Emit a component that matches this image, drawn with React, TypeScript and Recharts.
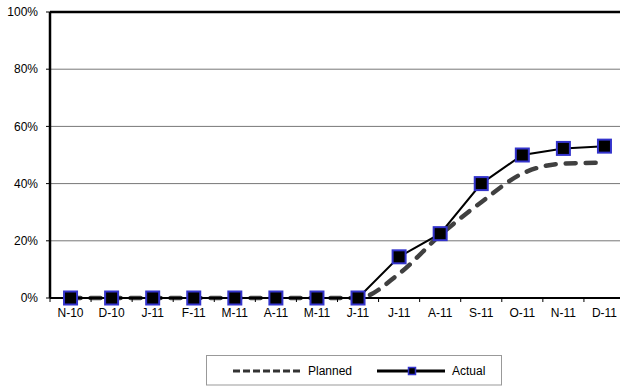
import React from 'react';
import { LineChart, Line, XAxis, YAxis, CartesianGrid, ReferenceLine } from 'recharts';

const months = ['N-10', 'D-10', 'J-11', 'F-11', 'M-11', 'A-11', 'M-11', 'J-11', 'J-11', 'A-11', 'S-11', 'O-11', 'N-11', 'D-11'];
const planned = [0, 0, 0, 0, 0, 0, 0, 0, 8.5, 22, 33.5, 43.5, 47, 47.3];
const actual = [0, 0, 0, 0, 0, 0, 0, 0, 14.4, 22.5, 40, 50, 52.3, 53.1];
const yTicks = [0, 20, 40, 60, 80, 100];
const seriesNames = ['Planned', 'Actual'];

const data = months.map((m, i) => ({ idx: i, month: m, planned: planned[i], actual: actual[i] }));

const W = 640;
const H = 386;
const MARGIN = { top: 12, right: 15, bottom: 58, left: 0 };
const Y_AXIS_W = 50;
const X_AXIS_H = 30;
const PLOT_W = W - MARGIN.left - MARGIN.right - Y_AXIS_W;
const BAND = PLOT_W / months.length;
const AXIS_Y = H - MARGIN.bottom - X_AXIS_H;
const FONT = 'Liberation Sans, Arial, sans-serif';
const BLUE = '#3333cc';

const XTick = (props: any) => {
  const { x, payload } = props;
  const label = months[payload.value];
  return (
    <g>
      <line x1={x - BAND / 2} x2={x - BAND / 2} y1={AXIS_Y} y2={AXIS_Y + 4} stroke="#000" strokeWidth={1} />
      <text x={x} y={AXIS_Y + 19} textAnchor="middle" fontSize={12} fontFamily={FONT} fill="#000">
        {label}
      </text>
    </g>
  );
};

const SquareDot = (props: any) => {
  const { cx, cy, index } = props;
  if (cx == null || cy == null) return <g key={`d${index}`} />;
  return (
    <rect key={`d${index}`} x={cx - 6.5} y={cy - 6.5} width={13} height={13} fill="#000" stroke={BLUE} strokeWidth={2} />
  );
};

const LegendBox = () => (
  <svg
    width={300}
    height={32}
    style={{ position: 'absolute', left: 205, top: 354 }}
  >
    <rect x={1.5} y={1.5} width={295} height={29.5} fill="#fff" stroke="#999" strokeWidth={1} />
    <line x1={28} x2={95} y1={17} y2={17} stroke="#333" strokeWidth={3} strokeDasharray="7 3" />
    <text x={103} y={21} fontSize={12} fontFamily={FONT} fill="#000">{seriesNames[0]}</text>
    <line x1={172} x2={240} y1={17} y2={17} stroke="#000" strokeWidth={3} />
    <rect x={203.5} y={13.5} width={7} height={7} fill="#000" stroke={BLUE} strokeWidth={1.5} />
    <text x={247} y={21} fontSize={12} fontFamily={FONT} fill="#000">{seriesNames[1]}</text>
  </svg>
);

export default function App() {
  return (
    <div
      style={{
        position: 'absolute',
        left: 0,
        top: 0,
        width: 620,
        height: 386,
        overflow: 'hidden',
        background: '#fff',
      }}
    >
      <LineChart width={W} height={H} data={data} margin={MARGIN}>
        <CartesianGrid vertical={false} stroke="#777" strokeWidth={1} />
        <XAxis
          dataKey="idx"
          type="category"
          scale="band"
          height={X_AXIS_H}
          tick={<XTick />}
          tickLine={false}
          axisLine={{ stroke: '#000', strokeWidth: 2 }}
          interval={0}
        />
        <YAxis
          type="number"
          domain={[0, 100]}
          ticks={yTicks}
          width={Y_AXIS_W}
          tickFormatter={(v: number) => `${v}%`}
          tick={{ fontSize: 12, fontFamily: FONT, fill: '#000' }}
          tickSize={4}
          tickMargin={8}
          tickLine={{ stroke: '#000' }}
          axisLine={{ stroke: '#000', strokeWidth: 2.5 }}
        />
        <ReferenceLine y={100} stroke="#000" strokeWidth={2.5} ifOverflow="extendDomain" />
        <Line
          type="monotone"
          dataKey="planned"
          name={seriesNames[0]}
          stroke="#404040"
          strokeWidth={4.5}
          strokeDasharray="10 10"
          strokeLinecap="round"
          dot={false}
          activeDot={false}
          isAnimationActive={false}
        />
        <Line
          type="linear"
          dataKey="actual"
          name={seriesNames[1]}
          stroke="#000"
          strokeWidth={2}
          dot={<SquareDot />}
          activeDot={false}
          isAnimationActive={false}
        />
      </LineChart>
      <LegendBox />
    </div>
  );
}
